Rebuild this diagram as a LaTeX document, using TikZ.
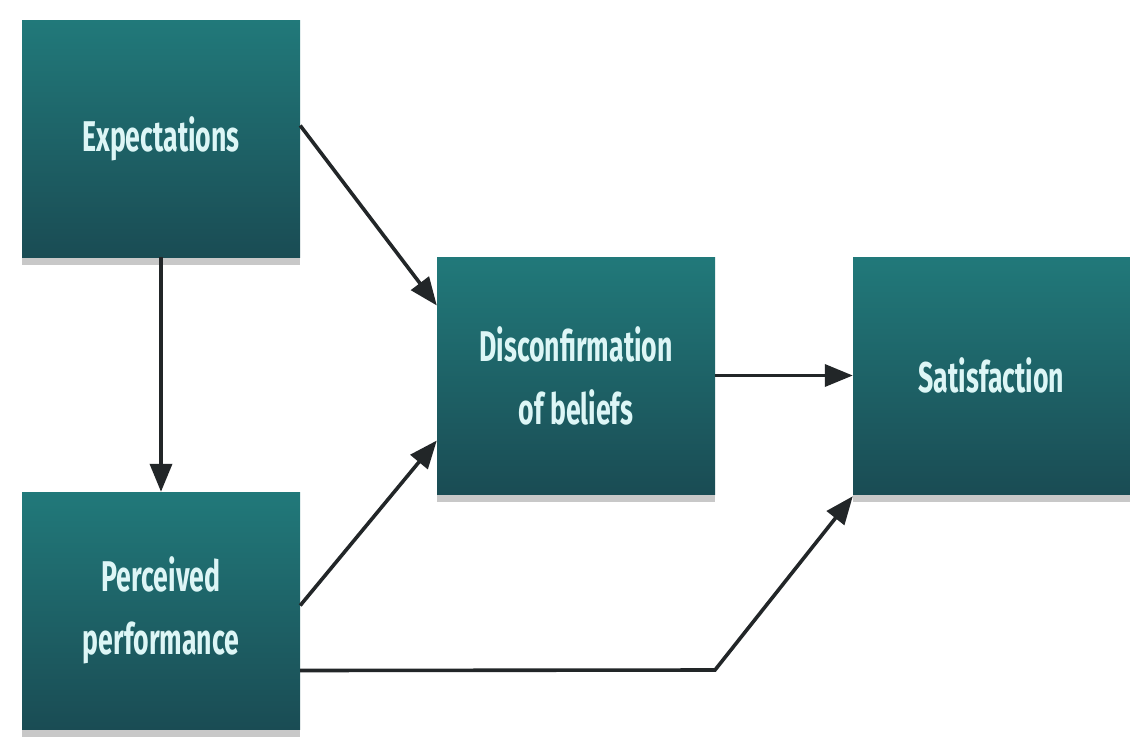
\documentclass[tikz,border=0pt]{standalone}
\usepackage{fontspec}
\setmainfont{Fira Sans}[FakeStretch=0.62, UprightFont=*-Bold]
\usetikzlibrary{arrows.meta,shadows,calc}
\definecolor{boxtop}{HTML}{21797A}
\definecolor{boxbot}{HTML}{1A4C54}
\definecolor{boxtext}{HTML}{DDF6F6}
\definecolor{linec}{HTML}{222628}
\begin{document}
\begin{tikzpicture}[x=1pt,y=-1pt,
  box/.style={rectangle, minimum width=278pt, minimum height=237pt, inner sep=0pt,
    top color=boxtop, bottom color=boxbot, draw=none,
    drop shadow={shadow xshift=0pt, shadow yshift=-8pt, opacity=0.3, fill=black!70},
    text=boxtext, align=center, font=\fontsize{43}{63}\selectfont},
  conn/.style={draw=linec, line width=3.6pt, -{Triangle[length=28pt,width=22pt]}}]
\useasboundingbox[fill=white] (0,0) rectangle (1130,747);
\node[box] (exp) at (161,138.5) {\raisebox{-6pt}{Expectations}};
\node[box] (dis) at (576,375.5) {Disconfirmation\\of beliefs};
\node[box, minimum width=277pt] (sat) at (991.5,375.5) {Satisfaction};
\node[box] (per) at (161,610.5) {\raisebox{-4pt}{Perceived}\\\raisebox{-4pt}{performance}};
\coordinate (bend) at (715,670);
\draw[conn] ([yshift=13pt]exp.east) -- ([yshift=70pt]dis.west);
\draw[conn] (exp.south) -- (per.north);
\draw[conn] ([yshift=5pt]per.east) -- ([yshift=-65pt]dis.west);
\draw[conn] (dis.east) -- (sat.west);
\draw[conn] ([yshift=-60pt]per.east) -- (bend) -- ([yshift=-2pt]sat.south west);
\end{tikzpicture}
\end{document}
